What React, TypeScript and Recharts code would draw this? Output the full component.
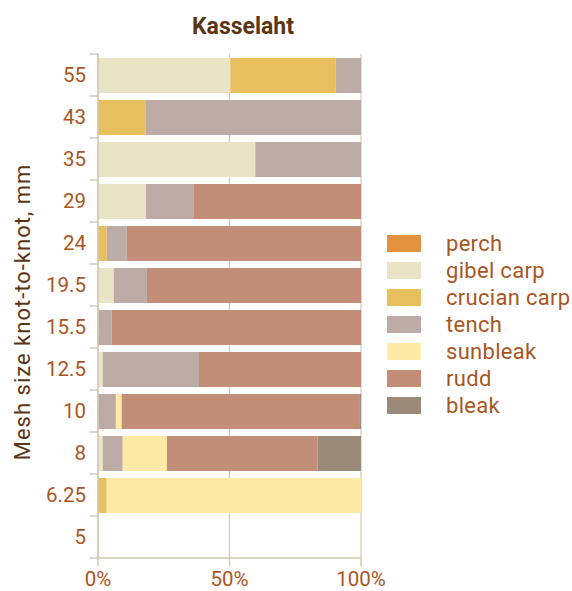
import React from 'react';
import { BarChart, Bar, XAxis, YAxis, CartesianGrid, Legend } from 'recharts';

const categories = ['55', '43', '35', '29', '24', '19.5', '15.5', '12.5', '10', '8', '6.25', '5'];
const perch = [0, 0, 0, 0, 0, 0, 0, 0, 0, 0, 0, 0];
const gibelCarp = [50.3, 0, 59.8, 18.2, 0, 6.0, 0, 1.8, 0, 1.8, 0, 0];
const crucianCarp = [40.0, 18.2, 0, 0, 3.3, 0, 0, 0, 0, 0, 3.3, 0];
const tench = [9.7, 81.8, 40.2, 18.3, 7.6, 12.6, 5.2, 36.6, 6.8, 7.6, 0, 0];
const sunbleak = [0, 0, 0, 0, 0, 0, 0, 0, 2.2, 16.8, 96.7, 0];
const rudd = [0, 0, 0, 63.5, 89.1, 81.4, 94.8, 61.6, 90.6, 57.3, 0, 0];
const bleak = [0, 0, 0, 0, 0, 0, 0, 0, 0.4, 16.5, 0, 0];
const xTicks = [0, 0.5, 1];

const series = [
  { key: 'perch', name: 'perch', values: perch, color: '#E3923F' },
  { key: 'gibel', name: 'gibel carp', values: gibelCarp, color: '#E9E4C6' },
  { key: 'crucian', name: 'crucian carp', values: crucianCarp, color: '#E8BF5F' },
  { key: 'tench', name: 'tench', values: tench, color: '#BCACA5' },
  { key: 'sunbleak', name: 'sunbleak', values: sunbleak, color: '#FEEAA6' },
  { key: 'rudd', name: 'rudd', values: rudd, color: '#C38E77' },
  { key: 'bleak', name: 'bleak', values: bleak, color: '#9B8979' },
];

const data = categories.map((c, i) => {
  const row: any = { mesh: c };
  series.forEach((s) => { row[s.key] = s.values[i]; });
  return row;
});

const FONT = 'Roboto, "DejaVu Sans", sans-serif';
const TICK_COLOR = '#A8561F';
const AXIS_COLOR = '#D4C8AE';
const DARK = '#5A3514';
const HALF_BAND = 21;

const YTick = (props: any) => {
  const { x, y, payload } = props;
  const isLast = payload.value === categories[categories.length - 1];
  return (
    <g>
      <line x1={x} x2={x + 8} y1={y - HALF_BAND} y2={y - HALF_BAND} stroke={AXIS_COLOR} strokeWidth={1.5} />
      {isLast && (
        <line x1={x} x2={x + 8} y1={y + HALF_BAND} y2={y + HALF_BAND} stroke={AXIS_COLOR} strokeWidth={1.5} />
      )}
      <text x={x - 4} y={y} dy="0.36em" textAnchor="end" fill={TICK_COLOR} fontSize={20.5} fontFamily={FONT}>
        {payload.value}
      </text>
    </g>
  );
};

const LegendContent = () => (
  <div style={{ fontFamily: FONT }}>
    {series.map((s) => (
      <div key={s.key} style={{ display: 'flex', alignItems: 'center', height: 27 }}>
        <div style={{ width: 34, height: 17, background: s.color }} />
        <span style={{ marginLeft: 25, fontSize: 22, color: TICK_COLOR, letterSpacing: 0.3, lineHeight: '27px' }}>{s.name}</span>
      </div>
    ))}
  </div>
);

export default function App() {
  return (
    <div style={{ position: 'absolute', left: 0, top: 0, width: 572, height: 591 }}>
      <div
        style={{
          position: 'absolute', left: 143, top: 13, width: 200, textAlign: 'center',
          fontFamily: FONT, fontWeight: 'bold', fontSize: 23, color: DARK,
        }}
      >
        Kasselaht
      </div>
      <BarChart
        width={572}
        height={591}
        data={data}
        layout="vertical"
        stackOffset="expand"
        margin={{ top: 54, right: 26, bottom: 0, left: 0 }}
        barSize={35}
      >
        <CartesianGrid horizontal={false} vertical stroke={AXIS_COLOR} strokeWidth={1.2} />
        <XAxis
          type="number"
          domain={[0, 1]}
          ticks={xTicks}
          height={33}
          tickFormatter={(v: number) => `${Math.round(v * 100)}%`}
          axisLine={{ stroke: AXIS_COLOR, strokeWidth: 1.5 }}
          tickLine={{ stroke: AXIS_COLOR, strokeWidth: 1.5 }}
          tickSize={8}
          tickMargin={5}
          tick={{ fill: TICK_COLOR, fontSize: 20.5, fontFamily: FONT }}
        />
        <YAxis
          type="category"
          dataKey="mesh"
          width={98}
          tickLine={false}
          tickSize={6}
          tickMargin={2}
          interval={0}
          axisLine={{ stroke: AXIS_COLOR, strokeWidth: 1.5 }}
          tick={<YTick />}
          label={(p: any) => {
            const vb = p.viewBox || {};
            const cy = (vb.y ?? 54) + (vb.height ?? 504) / 2 + 6;
            return (
              <text
                x={22}
                y={cy}
                transform={`rotate(-90, 22, ${cy})`}
                textAnchor="middle"
                dominantBaseline="central"
                fill={DARK}
                fontSize={22}
                fontFamily={FONT}
                letterSpacing={1}
              >
                Mesh size knot-to-knot, mm
              </text>
            );
          }}
        />
        <Legend
          layout="vertical"
          align="right"
          verticalAlign="top"
          wrapperStyle={{ left: 387, top: 230, width: 185 }}
          content={<LegendContent />}
        />
        {series.map((s) => (
          <Bar key={s.key} dataKey={s.key} name={s.name} stackId="a" fill={s.color} isAnimationActive={false} />
        ))}
      </BarChart>
    </div>
  );
}
